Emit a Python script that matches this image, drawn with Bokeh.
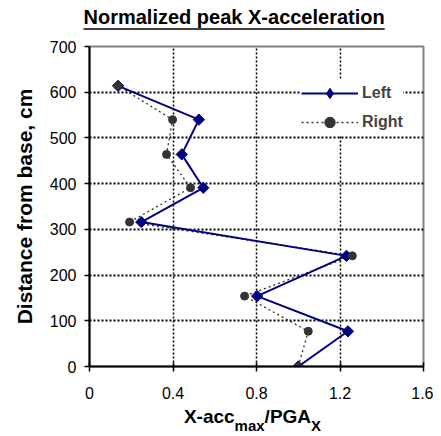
import numpy as np
from bokeh.plotting import figure
from bokeh.models import Range1d, Legend, LegendItem, FixedTicker
from bokeh.core.properties import value
from bokeh.layouts import column
from bokeh.embed import file_html
from bokeh.resources import INLINE

# ---- data ----
height_cm = [0, 77, 154, 242, 316, 391, 464, 540, 614]
left_acc = [1.00, 1.238, 0.803, 1.231, 0.248, 0.545, 0.442, 0.524, 0.137]
right_acc = [1.00, 1.048, 0.743, 1.259, 0.192, 0.484, 0.369, 0.398, 0.137]
series_names = ["Left", "Right"]
x_ticks = [0, 0.4, 0.8, 1.2, 1.6]
y_ticks = [0, 100, 200, 300, 400, 500, 600, 700]
y_grid = [100, 200, 300, 400, 500, 600]
title_text = "Normalized peak X-acceleration"
y_label = "Distance from base, cm"
x_label_parts = [("X-acc", "main"), ("max", "sub"), ("/PGA", "main"), ("X", "sub")]

FONT = "Liberation Sans"
NAVY = "#000080"
GRAY = "#333333"
W = 433
BASE_SHIFT = 0.35  # observed offset (em) between the given y and the drawn baseline

# approximate Arial/Liberation Sans Bold advance widths (em)
ADV = {'N': .722, 'o': .611, 'r': .389, 'm': .889, 'a': .556, 'l': .278, 'i': .278,
       'z': .5, 'e': .556, 'd': .611, ' ': .278, 'p': .611, 'k': .556, 'X': .667,
       '-': .333, 'c': .556, 't': .333, 'n': .611, 'x': .556, '/': .278, 'P': .667,
       'G': .778, 'A': .722}


def text_width(s, size):
    return sum(ADV.get(ch, 0.556) for ch in s) * size


def strip_figure(h):
    f = figure(width=W, height=h, x_range=Range1d(0, W), y_range=Range1d(h, 0),
               output_backend="svg", toolbar_location=None, title=None,
               x_axis_location=None, y_axis_location=None, min_border=0,
               frame_align=False)
    f.outline_line_color = None
    f.grid.visible = False
    f.background_fill_color = "white"
    f.border_fill_color = "white"
    return f


# ---- title strip (underlined title) ----
TITLE_H = 38
pt = strip_figure(TITLE_H)
tsize = 20
tx = 83
pt.text(x=[tx], y=[23 - BASE_SHIFT * tsize], text=[title_text], text_font=value(FONT),
        text_font_size=f"{tsize}px", text_font_style="bold", text_color="black",
        text_align="left", text_baseline="alphabetic")
tw = text_width(title_text, tsize)
pt.segment(x0=[tx], y0=[28.5], x1=[tx + tw], y1=[28.5], line_color="black", line_width=1.5)

# ---- main plot ----
MAIN_H = 367
p = figure(width=W, height=MAIN_H, output_backend="svg", toolbar_location=None, title=None,
           x_range=Range1d(0, 1.6), y_range=Range1d(0, 700), frame_align=False,
           min_border_left=89, min_border_right=10, min_border_top=8, min_border_bottom=39)
p.background_fill_color = "white"
p.border_fill_color = "white"
p.outline_line_color = "#808080"
p.outline_line_width = 2

for ax in (p.xaxis[0], p.yaxis[0]):
    ax.axis_line_color = "black"
    ax.axis_line_width = 2
    ax.major_tick_line_color = "black"
    ax.major_tick_line_width = 1.5
    ax.minor_tick_line_color = None
    ax.major_label_text_font = FONT
    ax.major_label_text_font_size = "16px"
    ax.major_label_text_color = "black"
    ax.major_label_text_font_style = "normal"

p.xaxis.ticker = FixedTicker(ticks=x_ticks)
p.xaxis.major_label_overrides = {0: "0"}
p.xaxis.major_tick_in = 4
p.xaxis.major_tick_out = 5
p.xaxis.major_label_standoff = 15

p.yaxis.ticker = FixedTicker(ticks=y_ticks)
p.yaxis.major_tick_in = 0
p.yaxis.major_tick_out = 5
p.yaxis.major_label_standoff = 8
p.yaxis.axis_label = y_label
p.yaxis.axis_label_text_font = FONT
p.yaxis.axis_label_text_font_size = "21px"
p.yaxis.axis_label_text_font_style = "bold"
p.yaxis.axis_label_text_color = "black"
p.yaxis.axis_label_standoff = 11

p.xgrid.ticker = FixedTicker(ticks=x_ticks[1:-1])
p.xgrid.grid_line_color = "black"
p.xgrid.grid_line_width = 1.5
p.xgrid.grid_line_dash = "2 2"
p.ygrid.ticker = FixedTicker(ticks=y_grid)
p.ygrid.grid_line_color = "black"
p.ygrid.grid_line_width = 2
p.ygrid.grid_line_dash = "2 2"

r_line = p.line(right_acc, height_cm, line_color=GRAY, line_width=1.3, line_dash="2 3")
l_line = p.line(left_acc, height_cm, line_color=NAVY, line_width=2)
l_pts = p.scatter(left_acc, height_cm, marker="square", angle=np.pi / 4, size=8,
                  fill_color=NAVY, line_color=NAVY)
r_pts = p.scatter(right_acc, height_cm, marker="circle", size=8,
                  fill_color=GRAY, line_color=GRAY)
# legend-only diamond swatch (a single non-plotted NaN point)
l_key = p.scatter(x=[np.nan], y=[np.nan], marker="diamond", size=13,
                  fill_color=NAVY, line_color=NAVY)

legend = Legend(items=[LegendItem(label=series_names[0], renderers=[l_line, l_key]),
                       LegendItem(label=series_names[1], renderers=[r_line, r_pts])],
                location=(212, 231))
legend.background_fill_color = "white"
legend.background_fill_alpha = 1
legend.border_line_color = None
legend.label_text_font = FONT
legend.label_text_font_size = "16px"
legend.label_text_font_style = "bold"
legend.glyph_width = 57
legend.glyph_height = 26
legend.label_height = 26
legend.spacing = 3
legend.padding = 7
legend.label_standoff = 4
legend.margin = 0
p.add_layout(legend)

# ---- x axis label strip (with subscripts) ----
XL_H = 29
px = strip_figure(XL_H)
sizes = {"main": 19, "sub": 15}
baselines = {"main": 17.5, "sub": 25.5}
total = sum(text_width(t, sizes[k]) for t, k in x_label_parts)
cx = 252 - total / 2
for t, k in x_label_parts:
    px.text(x=[cx], y=[baselines[k] - BASE_SHIFT * sizes[k]], text=[t], text_font=value(FONT),
            text_font_size=f"{sizes[k]}px", text_font_style="bold", text_color="black",
            text_align="left", text_baseline="alphabetic")
    cx += text_width(t, sizes[k])

layout = column(pt, p, px, spacing=0)
open("out.html", "w").write(file_html(layout, INLINE))
